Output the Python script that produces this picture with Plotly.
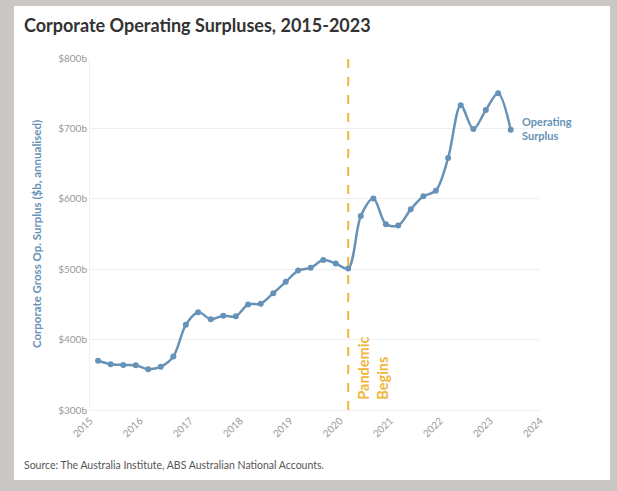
import plotly.graph_objects as go

# ---- data ----
dates = [
    "2015-03-01", "2015-06-01", "2015-09-01", "2015-12-01",
    "2016-03-01", "2016-06-01", "2016-09-01", "2016-12-01",
    "2017-03-01", "2017-06-01", "2017-09-01", "2017-12-01",
    "2018-03-01", "2018-06-01", "2018-09-01", "2018-12-01",
    "2019-03-01", "2019-06-01", "2019-09-01", "2019-12-01",
    "2020-03-01", "2020-06-01", "2020-09-01", "2020-12-01",
    "2021-03-01", "2021-06-01", "2021-09-01", "2021-12-01",
    "2022-03-01", "2022-06-01", "2022-09-01", "2022-12-01",
    "2023-03-01", "2023-06-01",
]
surplus = [
    370, 365, 364, 363.5,
    358, 361.5, 376, 421,
    439, 429, 434, 433,
    450, 451, 466, 482,
    498, 502, 513, 508,
    501, 575.5, 600.5, 564,
    562, 585, 603.5, 611.5,
    658, 733, 699, 726,
    750, 698,
]
y_ticks = [300, 400, 500, 600, 700, 800]
x_ticks = ["2015", "2016", "2017", "2018", "2019", "2020", "2021", "2022", "2023", "2024"]
pandemic_date = "2020-03-01"

BLUE = "#6792b7"
ORANGE = "#f0b63c"
FONT = "Lato"

fig = go.Figure()
fig.add_trace(go.Scatter(
    x=dates, y=surplus, mode="lines+markers",
    line=dict(color=BLUE, width=2.5, shape="spline", smoothing=0.9),
    marker=dict(color=BLUE, size=6),
    showlegend=False, hoverinfo="skip",
))

# white card
fig.add_shape(type="rect", xref="paper", yref="paper",
              x0=(14 - 90) / 450, x1=(610 - 90) / 450,
              y0=(410 - 480) / 352, y1=(410 - 6) / 352,
              fillcolor="white", line=dict(width=0), layer="below")

# pandemic line
fig.add_shape(type="line", xref="x", yref="paper",
              x0=pandemic_date, x1=pandemic_date, y0=0, y1=1,
              line=dict(color=ORANGE, width=2, dash="dash"))

fig.add_annotation(x=pandemic_date, y=300, xref="x", yref="y",
                   text="<b>Pandemic<br>Begins</b>", textangle=-90, align="left",
                   showarrow=False, xanchor="left", yanchor="bottom", xshift=4, yshift=8,
                   font=dict(family=FONT, size=14.5, color=ORANGE, weight=700))

fig.add_annotation(x=dates[-1], y=surplus[-1], xref="x", yref="y",
                   text="<b>Operating<br>Surplus</b>", align="left",
                   showarrow=False, xanchor="left", yanchor="middle", xshift=9, yshift=1,
                   font=dict(family=FONT, size=11, color=BLUE, weight=700))

fig.add_annotation(xref="paper", yref="paper", x=(22 - 90) / 450, y=(410 - 25) / 352,
                   text="<b>Corporate Operating Surpluses, 2015-2023</b>",
                   showarrow=False, xanchor="left", yanchor="middle",
                   font=dict(family=FONT, size=18, color="#333333", weight=700))

fig.add_annotation(xref="paper", yref="paper", x=(22 - 90) / 450, y=(410 - 465) / 352,
                   text="Source: The Australia Institute, ABS Australian National Accounts.",
                   showarrow=False, xanchor="left", yanchor="middle",
                   font=dict(family=FONT, size=10.5, color="#555555"))

fig.update_layout(
    width=617, height=491,
    margin=dict(l=90, r=77, t=58, b=81),
    paper_bgcolor="#cbc7c5", plot_bgcolor="rgba(0,0,0,0)",
    font=dict(family=FONT),
)
fig.update_xaxes(
    range=["2015-01-01", "2024-01-01"], tickvals=[f"{t}-01-01" for t in x_ticks],
    ticktext=x_ticks, tickangle=-45, showgrid=False, zeroline=False,
    tickfont=dict(size=10, color="#999999"), showline=True, linecolor="#f0f0f0",
)
fig.update_yaxes(
    range=[300, 800], tickvals=y_ticks, ticktext=[f"${v}b" for v in y_ticks],
    gridcolor="#efefef", zeroline=False, showline=True, linecolor="#f0f0f0",
    tickfont=dict(size=10, color="#999999"),
    title=dict(text="<b>Corporate Gross Op. Surplus ($b, annualised)</b>",
               font=dict(size=11.5, color=BLUE, weight=700), standoff=14),
)

fig.write_html("out.html")
